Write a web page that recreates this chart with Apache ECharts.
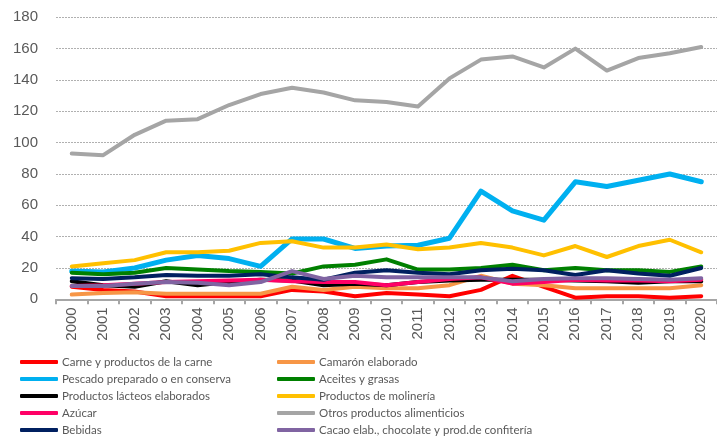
<!DOCTYPE html>
<html><head><meta charset="utf-8">
<script src="https://cdn.jsdelivr.net/npm/echarts@6/dist/echarts.min.js"></script>
<style>html,body{margin:0;padding:0;background:#fff}#c{width:717px;height:438px}</style>
</head><body><div id="c"></div>
<script>
var years = ['2000','2001','2002','2003','2004','2005','2006','2007','2008','2009','2010','2011','2012','2013','2014','2015','2016','2017','2018','2019','2020'];
var yTicks = {min:0, max:180, interval:20};

var carne      = [8, 6, 5, 2, 2, 2, 2, 6, 5, 2, 4, 3, 2, 6, 15, 8, 1, 2, 2, 1, 2];
var camaron    = [3, 4, 4.5, 3.5, 3.5, 3.5, 3.5, 8, 6, 8, 7, 7, 9, 15, 10, 9, 7, 7, 7, 7, 9];
var pescado    = [18, 17.5, 20, 25, 28, 26, 21, 38.5, 38.5, 32.5, 34, 34.5, 39, 69, 56.5, 50.5, 75, 72, 76, 80, 75];
var aceites    = [17, 16, 17, 20, 19, 18, 17.5, 16.5, 21, 22, 25.5, 19, 19, 20, 22, 18.5, 20, 18.5, 18.5, 17.5, 21];
var lacteos    = [11.5, 9, 8, 11.5, 9, 11, 12.5, 12, 9, 10, 9, 11, 12, 12.5, 12.5, 12.5, 12, 11.5, 10.5, 11.5, 11.5];
var molineria  = [21, 23, 25, 30, 30, 31, 36, 37, 33, 33, 35, 32, 33, 36, 33, 28, 34, 27, 34, 38, 30];
var azucar     = [8.5, 9, 10, 11, 11.5, 12, 12.5, 11.5, 11, 11, 9, 11, 13, 14, 10, 11, 12.5, 12, 12, 11.5, 12.5];
var otros      = [93, 92, 105, 114, 115, 124, 131, 135, 132, 127, 126, 123, 141, 153, 155, 148, 160, 146, 154, 157, 161];
var bebidas    = [13.5, 13, 14, 15.5, 15, 15, 16, 14, 12.5, 17, 18.5, 17, 16, 18.5, 19.5, 18.5, 15.5, 18.5, 16.5, 15, 20];
var cacao      = [8.5, 8.5, 10, 11, 10.5, 9, 11, 18, 13, 15, 14, 14, 14, 14, 11.5, 13, 13.5, 13.5, 13, 12.5, 13.5];

var names = ['Carne y productos de la carne','Camarón elaborado','Pescado preparado o en conserva','Aceites y grasas','Productos lácteos elaborados','Productos de molinería','Azúcar','Otros productos alimenticios','Bebidas','Cacao elab., chocolate y prod.de confitería'];
var datas = [carne, camaron, pescado, aceites, lacteos, molineria, azucar, otros, bebidas, cacao];
var colors = ['#FF0000','#F79646','#00B0F0','#008000','#000000','#FFC000','#FF0066','#A5A5A5','#002060','#8064A2'];
var widths = [4,4,5,4,4,4,4,4,4,4];

var axisFont = '"Liberation Sans", Arial, sans-serif';
var series = names.map(function(n,i){
  return {name:n, type:'line', data:datas[i], symbol:'none', smooth:false,
    lineStyle:{color:colors[i], width:widths[i], cap:'round', join:'round'},
    itemStyle:{color:colors[i]}};
});
function mkLegend(left, data){
  return {orient:'vertical', left:left, top:350, height:90, data:data,
    itemWidth:38, itemHeight:4, itemGap:3, icon:'roundRect',
    textStyle:{color:'#595959', fontSize:11.5, lineHeight:14, fontFamily:'Lato, sans-serif', padding:[0,0,0,-1]}};
}

var chart = echarts.init(document.getElementById('c'), null, {renderer:'canvas'});
chart.setOption({
  animation:false,
  color: colors,
  grid:{left:56, width:662, top:17.3, bottom:138.7, containLabel:false},
  legend:[
    mkLegend(15, [names[0],names[2],names[4],names[6],names[8]]),
    mkLegend(272, [names[1],names[3],names[5],names[7],names[9]])
  ],
  xAxis:{type:'category', data:years, boundaryGap:true,
    axisLine:{lineStyle:{color:'#A6A6A6', width:2}},
    axisTick:{show:true, length:5, lineStyle:{color:'#A6A6A6', width:2}},
    axisLabel:{rotate:90, color:'#595959', fontSize:15, fontFamily:axisFont, margin:8, interval:0}},
  yAxis:{type:'value', min:yTicks.min, max:yTicks.max, interval:yTicks.interval,
    axisLine:{show:false}, axisTick:{show:false},
    axisLabel:{color:'#595959', fontSize:15, fontFamily:axisFont, margin:18},
    splitLine:{lineStyle:{color:'#B0B0B0', type:[2,1], width:1}}},
  series: series
});
</script></body></html>
